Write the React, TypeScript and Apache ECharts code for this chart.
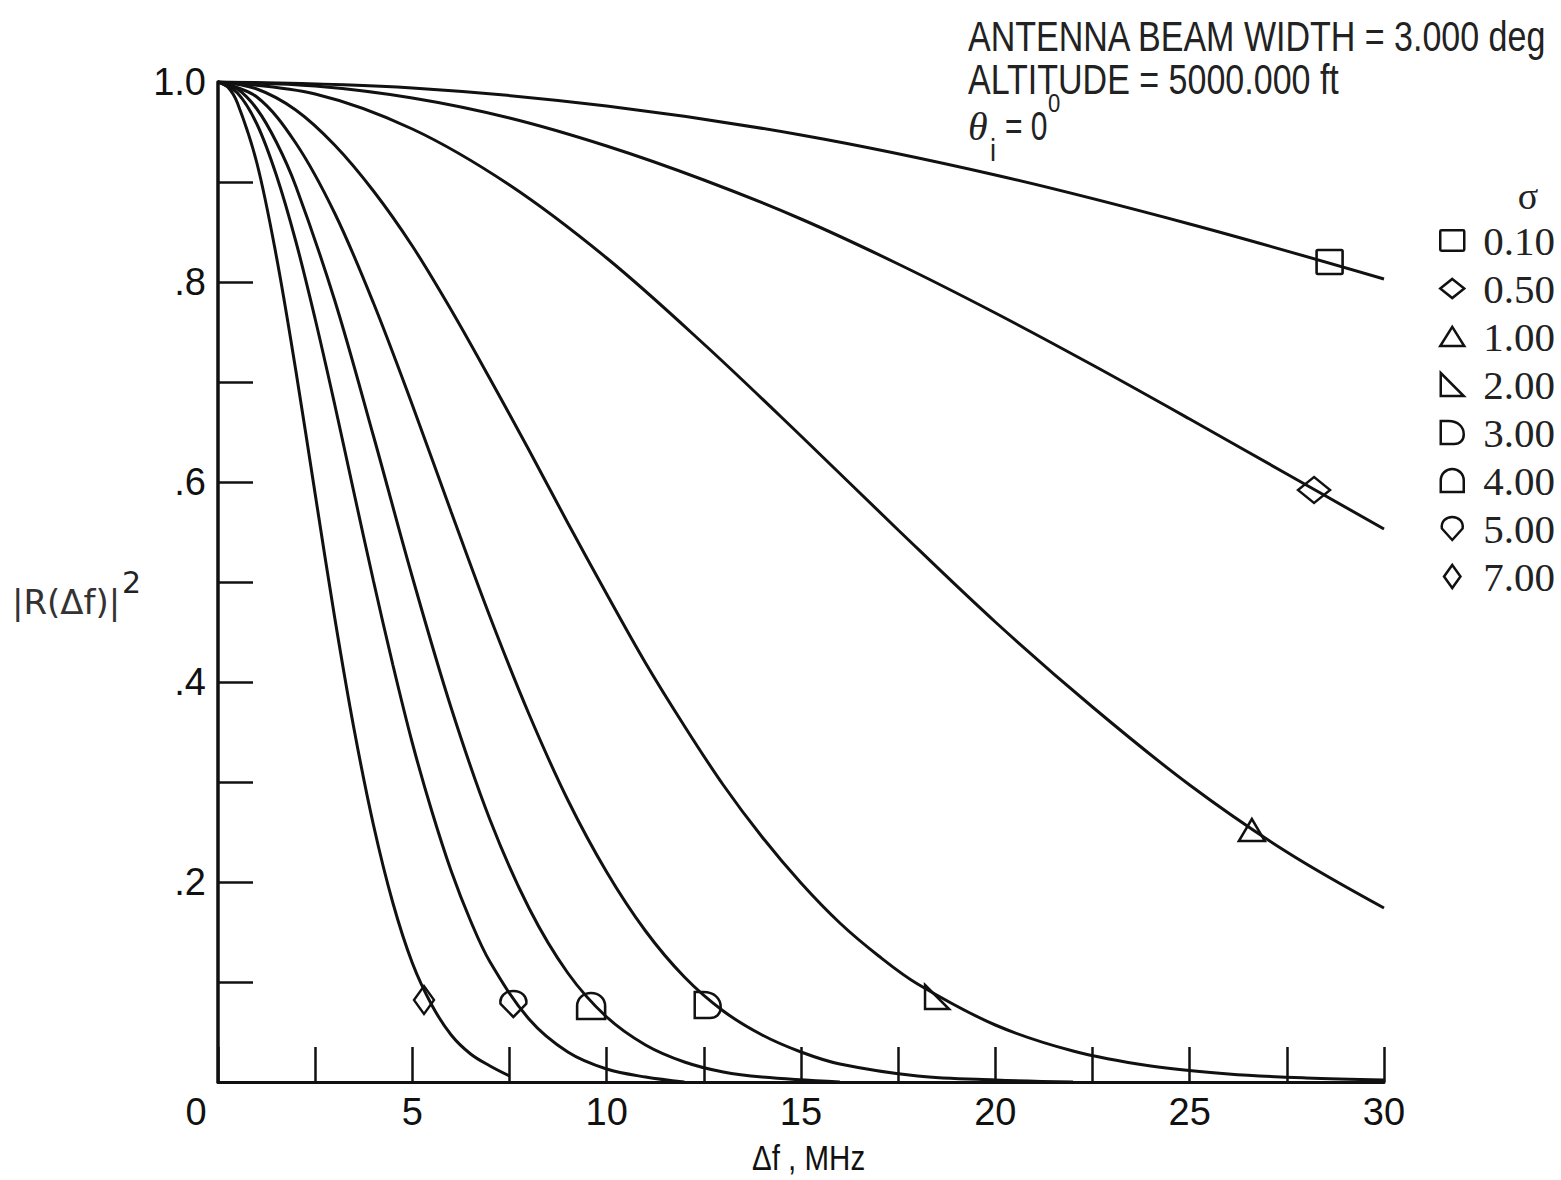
import React, { useEffect, useRef } from "react";
import * as echarts from "echarts";

// ---- Data ----
const sigmaLabels = ["0.10", "0.50", "1.00", "2.00", "3.00", "4.00", "5.00", "7.00"];

const f_s010 = [0, 5, 10, 15, 20, 25, 30];
const r_s010 = [1.0, 0.994, 0.976, 0.947, 0.907, 0.858, 0.803];

const f_s050 = [0, 2.5, 5, 7.5, 10, 12.5, 15, 17.5, 20, 22.5, 25, 27.5, 30];
const r_s050 = [1.0, 0.996, 0.984, 0.964, 0.936, 0.902, 0.863, 0.818, 0.769, 0.717, 0.663, 0.608, 0.553];

const f_s100 = [0, 2.5, 5, 7.5, 10, 12.5, 15, 17.5, 20, 22.5, 25, 27.5, 30];
const r_s100 = [1.0, 0.988, 0.953, 0.897, 0.824, 0.738, 0.646, 0.552, 0.46, 0.375, 0.297, 0.23, 0.174];

const f_s200 = [0, 1, 2, 3, 4, 5, 6, 7, 8, 9, 10, 11, 12, 13, 14, 15, 16, 17, 18, 20, 22, 24, 26, 28, 30];
const r_s200 = [1.0, 0.993, 0.972, 0.937, 0.891, 0.836, 0.772, 0.703, 0.632, 0.559, 0.488, 0.419, 0.356, 0.297, 0.245, 0.199, 0.159, 0.126, 0.098, 0.057, 0.031, 0.016, 0.008, 0.004, 0.002];

const f_s300 = [0, 1, 2, 3, 4, 5, 6, 7, 8, 9, 10, 11, 12, 13, 14, 15, 16, 18, 20, 22];
const r_s300 = [1.0, 0.985, 0.939, 0.869, 0.779, 0.677, 0.57, 0.465, 0.368, 0.282, 0.21, 0.151, 0.105, 0.071, 0.047, 0.03, 0.018, 0.006, 0.002, 0.0];

const f_s400 = [0, 0.5, 1, 1.5, 2, 3, 4, 5, 6, 7, 8, 9, 10, 11, 12, 13, 14, 16];
const r_s400 = [1.0, 0.993, 0.973, 0.94, 0.896, 0.782, 0.646, 0.505, 0.374, 0.262, 0.174, 0.109, 0.065, 0.037, 0.02, 0.01, 0.005, 0.0];

const f_s500 = [0, 0.5, 1, 1.5, 2, 2.5, 3, 3.5, 4, 4.5, 5, 5.5, 6, 6.5, 7, 8, 9, 10, 11, 12];
const r_s500 = [1.0, 0.989, 0.958, 0.907, 0.841, 0.763, 0.678, 0.589, 0.501, 0.417, 0.339, 0.271, 0.211, 0.161, 0.12, 0.063, 0.03, 0.013, 0.005, 0.0];

const f_s700 = [0, 0.25, 0.5, 1, 1.5, 2, 2.5, 3, 3.5, 4, 4.5, 5, 5.5, 6, 6.5, 7, 7.5];
const r_s700 = [1.0, 0.995, 0.979, 0.919, 0.826, 0.712, 0.588, 0.465, 0.353, 0.257, 0.179, 0.119, 0.077, 0.047, 0.028, 0.016, 0.006];

// marker positions (one symbol per curve)
const markerF = [28.6, 28.2, 26.6, 18.5, 12.6, 9.6, 7.6, 5.3];
const markerR = [0.82, 0.592, 0.252, 0.085, 0.077, 0.076, 0.078, 0.082];

const xTickLabels = ["5", "10", "15", "20", "25", "30"];
const yTickLabels = [".2", ".4", ".6", ".8", "1.0"];

// ---- Styling ----
const INK = "#111";
const SANS = "'Liberation Sans', Arial, sans-serif";
const SERIF = "'Liberation Serif', 'DejaVu Serif', serif";

const symbolPaths = [
  "path://M1,1 L19,1 Q20,1 20,2 L20,17 Q20,18 19,18 L1,18 Q0,18 0,17 L0,2 Q0,1 1,1 Z",
  "path://M10,0 L20,8 L10,16 L0,8 Z",
  "path://M10,0 L20,16 L0,16 Z",
  "path://M0,0 L18,18 L0,18 Z",
  "path://M0,0 L4,0 C9,0 12,3 12,7 C12,10 10,12 7,12 L0,12 Z",
  "path://M0,12 L0,6 C0,2.5 2.7,0 6,0 C9.3,0 12,2.5 12,6 L12,12 Z",
  "path://M6,12 L0.6,6 C0,2.5 2.7,0 6,0 C9.3,0 12,2.5 11.4,6 Z",
  "path://M5,0 L10,7 L5,14 L0,7 Z",
];
const symbolSizes: [number, number][] = [
  [26, 24],
  [32, 26],
  [26, 22],
  [24, 24],
  [26, 26],
  [28, 26],
  [26, 26],
  [20, 28],
];

const curveF = [f_s010, f_s050, f_s100, f_s200, f_s300, f_s400, f_s500, f_s700];
const curveR = [r_s010, r_s050, r_s100, r_s200, r_s300, r_s400, r_s500, r_s700];

function txt(text: string, x: number, y: number, fontSize: number, opts: any = {}) {
  return {
    type: "text",
    x,
    y,
    scaleX: opts.scaleX ?? 1,
    silent: true,
    style: {
      text,
      fontFamily: opts.fontFamily ?? SANS,
      fontStyle: opts.fontStyle ?? "normal",
      fontSize,
      fill: opts.fill ?? "#222",
      align: opts.align ?? "left",
      verticalAlign: "middle",
    },
  };
}

export default function App() {
  const ref = useRef<HTMLDivElement>(null);

  useEffect(() => {
    if (!ref.current) return;
    const chart = echarts.init(ref.current, null, { renderer: "svg" });

    const series: any[] = sigmaLabels.map((name, i) => ({
      name,
      type: "line",
      data: curveF[i].map((f, k) => [f, curveR[i][k]]),
      showSymbol: false,
      symbol: "none",
      smooth: 0.35,
      color: INK,
      lineStyle: { color: INK, width: 3 },
      silent: true,
      z: 3,
      markPoint: {
        silent: true,
        symbol: symbolPaths[i],
        symbolSize: symbolSizes[i],
        itemStyle: { color: "rgba(255,255,255,0)", borderColor: INK, borderWidth: 2.5 },
        label: { show: false },
        data: [{ coord: [markerF[i], markerR[i]] }],
      },
    }));

    const option: any = {
      animation: false,
      backgroundColor: "#ffffff",
      grid: { left: 218, top: 82, right: 177, bottom: 98, containLabel: false },
      xAxis: {
        type: "value",
        min: 0,
        max: 30,
        interval: 2.5,
        axisLine: { show: true, lineStyle: { color: INK, width: 3 } },
        axisTick: { show: true, inside: true, length: 35, lineStyle: { color: INK, width: 2.5 } },
        splitLine: { show: false },
        axisLabel: {
          interval: 0,
          margin: 11,
          fontFamily: SANS,
          fontSize: 38,
          color: INK,
          formatter: (v: number) => {
            const s = String(Math.round(v * 10) / 10);
            return xTickLabels.includes(s) ? s : "";
          },
        },
      },
      yAxis: {
        type: "value",
        min: 0,
        max: 1,
        interval: 0.1,
        axisLine: { show: true, lineStyle: { color: INK, width: 3.5 } },
        axisTick: { show: true, inside: true, length: 35, lineStyle: { color: INK, width: 2.5 } },
        splitLine: { show: false },
        axisLabel: {
          interval: 0,
          margin: 12,
          fontFamily: SANS,
          fontSize: 38,
          color: INK,
          formatter: (v: number) => {
            const n = Math.round(v * 10);
            const s = n === 10 ? "1.0" : "." + n;
            return yTickLabels.includes(s) ? s : "";
          },
        },
      },
      legend: {
        show: true,
        orient: "vertical",
        left: 1434,
        top: 215,
        itemGap: 7,
        itemWidth: 24,
        itemHeight: 23,
        selectedMode: false,
        itemStyle: { color: "rgba(255,255,255,0)", borderColor: INK, borderWidth: 2.5 },
        textStyle: {
          fontFamily: SERIF,
          fontSize: 41,
          lineHeight: 40,
          color: "#222",
          padding: [0, 0, 0, 14],
        },
        data: sigmaLabels.map((name, i) => ({
          name,
          icon: symbolPaths[i],
        })),
      },
      graphic: [
        txt("ANTENNA BEAM WIDTH = 3.000 deg", 968, 36, 42, { scaleX: 0.81 }),
        txt("ALTITUDE = 5000.000 ft", 968, 79, 42, { scaleX: 0.81 }),
        txt("θ", 968, 126, 40, { fontFamily: SERIF, fontStyle: "italic" }),
        txt("i", 990, 150, 32, { scaleX: 0.85 }),
        txt("= 0", 1005, 126, 40, { scaleX: 0.75 }),
        txt("0", 1048, 103, 26, { scaleX: 0.85 }),
        txt("σ", 1528, 196, 38, { fontFamily: SERIF, align: "center" }),
        txt("0", 196, 1112, 38, { align: "center", fill: INK }),
        txt("|R(Δf)|", 12, 602, 34, { fontFamily: "'DejaVu Sans', sans-serif", fill: "#333" }),
        txt("2", 122, 582, 30, { fontFamily: "'DejaVu Sans', sans-serif" }),
        txt("Δf , MHz", 752, 1157, 36, { scaleX: 0.82, fill: INK }),
      ],
      series,
    };

    chart.setOption(option);
    return () => chart.dispose();
  }, []);

  return (
    <div
      ref={ref}
      style={{ position: "absolute", left: 0, top: 0, width: 1561, height: 1180, background: "#fff" }}
    />
  );
}
